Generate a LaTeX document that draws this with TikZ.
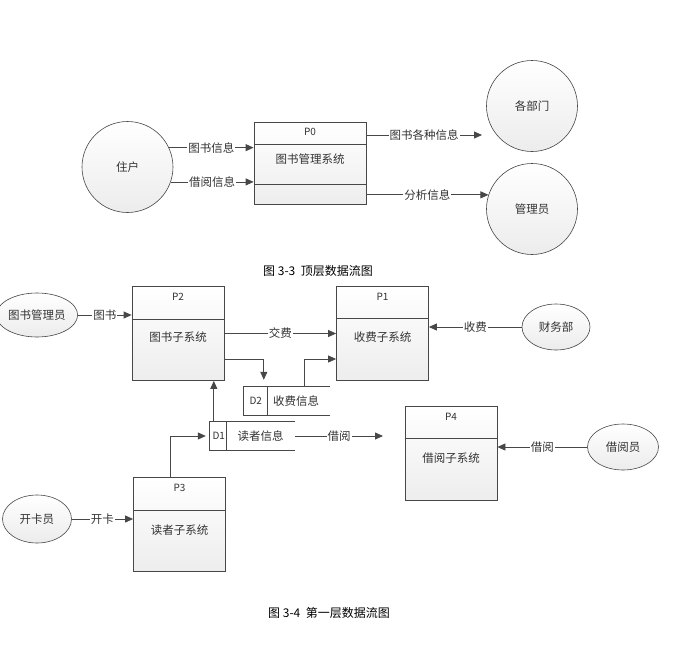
\documentclass[tikz,border=0pt]{standalone}
\usepackage{fontspec}
\setmainfont{Noto Sans CJK SC}
\usetikzlibrary{arrows.meta,shapes.geometric}

\definecolor{linec}{HTML}{474747}
\definecolor{textc}{HTML}{333333}

\tikzset{
  flow/.style={draw=linec, line width=0.8pt, -{Triangle[length=8pt,width=7pt]}},
  lbl/.style={fill=white, inner sep=1pt, text=textc, font=\fontsize{11.5}{13}\selectfont},
  ent/.style={circle, draw=linec, line width=0.6pt, top color=white, bottom color=gray!15, minimum size=91pt, inner sep=0pt, text=textc, font=\fontsize{11.5}{13}\selectfont},
  extent/.style={ellipse, draw=linec, line width=0.6pt, top color=white, bottom color=gray!15, inner sep=0pt, text=textc, font=\fontsize{11.5}{13}\selectfont},
  procbox/.style={rectangle, draw=linec, line width=0.8pt, top color=white, bottom color=gray!14, minimum width=92pt, minimum height=94pt, inner sep=0pt},
  ptitle/.style={text=textc, font=\fontsize{10}{11}\selectfont},
  ptext/.style={text=textc, font=\fontsize{11.5}{13}\selectfont},
  storeline/.style={draw=linec, line width=0.8pt},
  caption/.style={text=black, font=\fontsize{12}{14}\selectfont},
}

\begin{document}
\begin{tikzpicture}[x=1pt, y=-1pt]
\useasboundingbox[fill=white] (0,0) rectangle (678,672);

% top level
\node[ent] (zhuhu) at (127.5,167) {住户};
\node[ent] (bumen) at (532,106) {各部门};
\node[ent] (guanli) at (532,209) {管理员};

\node[procbox, minimum width=112pt, minimum height=82pt] (p0) at (310,163) {};
\draw[storeline] (p0.north west) ++(0,23) -- ++(112,0);
\draw[storeline] (p0.south west) ++(0,-20) -- ++(112,0);
\node[ptitle] at ([yshift=-10pt]p0.north) {P0};
\node[ptext] at ([yshift=-38pt]p0.north) {图书管理系统};

\coordinate (e1) at (482,135);

\draw[flow] (zhuhu.25) -- node[lbl]{图书信息} (zhuhu.25 -| p0.west);
\draw[flow] (zhuhu.-19) -- node[lbl]{借阅信息} (zhuhu.-19 -| p0.west);
\draw[flow] (p0.east |- e1) -- node[lbl]{图书各种信息} (e1);
\draw[flow] (p0.east |- guanli.162) -- node[lbl]{分析信息} (guanli.162);

\node[caption] (cap1) at (318,271) {图 3-3\ \ 顶层数据流图};

% first level
\node[extent, minimum width=68pt, minimum height=44pt] (tsgly) at (37,315) {图书管理员};
\node[extent, minimum width=68pt, minimum height=46pt] (cwb) at (556,327) {财务部};
\node[extent, minimum width=71pt, minimum height=46pt] (jyy) at (623,447) {借阅员};
\node[extent, minimum width=69pt, minimum height=48pt] (kky) at (37,519) {开卡员};

\node[procbox] (p2) at (178,333.5) {};
\node[procbox] (p1) at (382.5,333) {};
\node[procbox] (p4) at (451,453) {};
\node[procbox] (p3) at (179.5,524.5) {};
\foreach \n in {p1,p2,p3,p4}
  \draw[storeline] (\n.north west) ++(0,33) -- ++(92,0);

\node[ptitle] at ([yshift=-11pt]p2.north) {P2};
\node[ptext] at ([yshift=-51pt]p2.north) {图书子系统};
\node[ptitle] at ([yshift=-11pt]p1.north) {P1};
\node[ptext] at ([yshift=-52pt]p1.north) {收费子系统};
\node[ptitle] at ([yshift=-11pt]p4.north) {P4};
\node[ptext] at ([yshift=-53pt]p4.north) {借阅子系统};
\node[ptitle] at ([yshift=-11pt]p3.north) {P3};
\node[ptext] at ([yshift=-53pt]p3.north) {读者子系统};

% data stores
\node[minimum width=86pt, minimum height=28pt, inner sep=0pt] (d2) at (287,401) {};
\draw[storeline] (d2.north east) -- (d2.north west) -- (d2.south west) -- (d2.south east);
\draw[storeline] ([xshift=24pt]d2.north west) -- ([xshift=24pt]d2.south west);
\node[ptitle] at ([xshift=12pt]d2.west) {D2};
\node[ptext] at ([xshift=9pt]d2.center) {收费信息};

\node[minimum width=85pt, minimum height=28pt, inner sep=0pt] (d1) at (252.5,436) {};
\draw[storeline] (d1.north east) -- (d1.north west) -- (d1.south west) -- (d1.south east);
\draw[storeline] ([xshift=17pt]d1.north west) -- ([xshift=17pt]d1.south west);
\node[ptitle] at ([xshift=9pt]d1.west) {D1};
\node[ptext] at ([xshift=8pt]d1.center) {读者信息};

\coordinate (jyend) at (383,436);

\draw[flow] (tsgly.east) -- node[lbl]{图书} (tsgly.east -| p2.west);
\draw[flow] (p2.east) -- node[lbl]{交费} (p2.east -| p1.west);
\draw[flow] (cwb.west) -- node[lbl]{收费} (cwb.west -| p1.east);
\draw[flow, shorten >=7pt] ([yshift=-25.5pt]p2.east) -| ([xshift=20pt]d2.north west);
\draw[flow] ([xshift=61pt]d2.north west) |- ([yshift=-26pt]p1.west);
\draw[flow] ([xshift=4pt]d1.north west) -- ([xshift=4pt]d1.north west |- p2.south);
\draw[flow, shorten >=4pt] ([xshift=-9.5pt]p3.north) |- (d1.west);
\draw[flow] (d1.east) -- node[lbl]{借阅} (jyend);
\draw[flow] (jyy.west) -- node[lbl]{借阅} (jyy.west -| p4.east);
\draw[flow] (kky.east) -- node[lbl]{开卡} (kky.east -| p3.west);

\node[caption] (cap2) at (329,613) {图 3-4\ \ 第一层数据流图};

\end{tikzpicture}
\end{document}
